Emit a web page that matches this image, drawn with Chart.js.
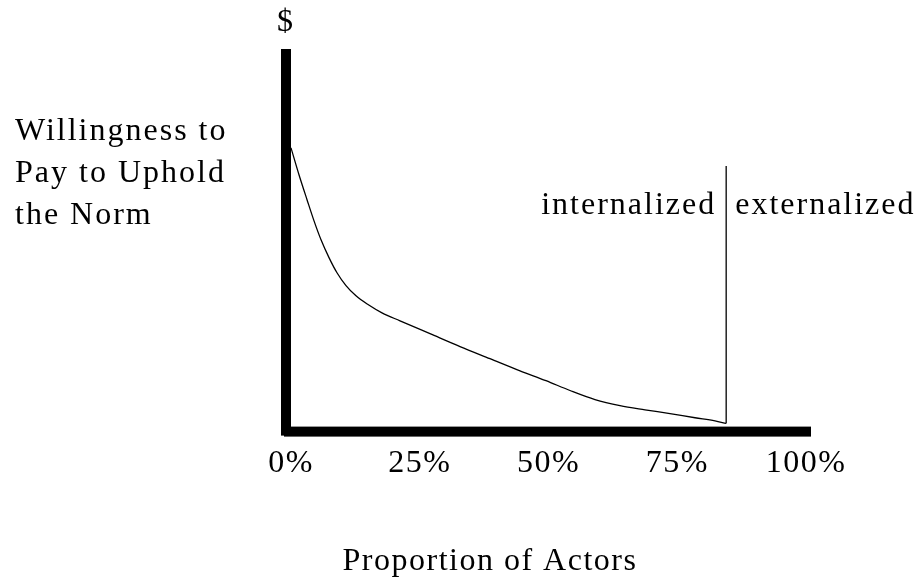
<!DOCTYPE html>
<html>
<head>
<meta charset="utf-8">
<script src="https://cdn.jsdelivr.net/npm/chart.js@4.4.0/dist/chart.umd.min.js"></script>
<style>
  html, body { margin: 0; padding: 0; background: #fff; }
  #wrap { width: 920px; height: 582px; }
</style>
</head>
<body>
<div id="wrap"><canvas id="norm"></canvas></div>
<script>
// values
const tickValues = [0, 25, 50, 75, 100];
const tickLabels = ['0%', '25%', '50%', '75%', '100%'];
const curveX = [0, 1.55, 3.11, 4.47, 5.83, 7.38, 8.93, 10.68, 12.62, 14.95, 17.67, 21.17, 26.99, 32.82, 38.64, 44.47, 49.51, 54.17, 59.03, 63.88, 68.74, 73.59, 78.45, 82.33, 84.47];
const curveY = [73.9, 66.8, 60.2, 54.6, 49.6, 44.9, 40.9, 37.5, 34.8, 32.5, 30.3, 28.2, 24.8, 21.4, 18.2, 15.0, 12.4, 9.8, 7.4, 5.8, 4.7, 3.7, 2.6, 1.8, 1.1];
const dividerX = [84.5, 84.5];
const dividerY = [1.1, 69.1];
const yTitleLines = ['Willingness to', 'Pay to Uphold', 'the Norm'];
const regionLabels = ['internalized', 'externalized'];
const xTitle = 'Proportion of Actors';
const yUnit = '$';

const serif = '"Liberation Serif", "Times New Roman", serif';
Chart.defaults.font.family = serif;
Chart.defaults.color = '#000';

// thick axes and the free text labels
const annotate = {
  id: 'annotate',
  beforeDraw(chart) {
    chart.ctx.letterSpacing = '1.5px';
  },
  beforeDatasetsDraw(chart) {
    const {ctx, chartArea: a} = chart;
    ctx.save();
    ctx.fillStyle = '#000';
    ctx.fillRect(a.left - 10, a.top, 10, a.bottom + 8 - a.top);
    ctx.fillRect(a.left - 7, a.bottom - 1, a.right + 5 - (a.left - 7), 10);
    ctx.restore();
  },
  afterDraw(chart) {
    const {ctx, chartArea: a, scales} = chart;
    ctx.save();
    ctx.fillStyle = '#000';
    ctx.font = '32px ' + serif;
    ctx.textBaseline = 'alphabetic';
    ctx.letterSpacing = '2px';
    ctx.textAlign = 'center';
    ctx.fillText(yUnit, a.left - 5, 31);
    ctx.textAlign = 'left';
    yTitleLines.forEach((t, i) => ctx.fillText(t, 15, 140 + i * 42));
    const dx = scales.x.getPixelForValue(dividerX[0]);
    ctx.textAlign = 'right';
    ctx.fillText(regionLabels[0], dx - 10, 214);
    ctx.textAlign = 'left';
    ctx.fillText(regionLabels[1], dx + 9, 214);
    ctx.restore();
  }
};

new Chart(document.getElementById('norm'), {
  type: 'scatter',
  data: {
    datasets: [
      {
        data: curveX.map((x, i) => ({x, y: curveY[i]})),
        showLine: true,
        borderColor: '#000',
        borderWidth: 1.3,
        pointRadius: 0,
        cubicInterpolationMode: 'monotone'
      },
      {
        data: dividerX.map((x, i) => ({x, y: dividerY[i]})),
        showLine: true,
        borderColor: '#000',
        borderWidth: 1.3,
        pointRadius: 0
      }
    ]
  },
  options: {
    responsive: true,
    maintainAspectRatio: false,
    animation: false,
    devicePixelRatio: 1,
    layout: { padding: { left: 174, right: 114, top: 49, bottom: 0 } },
    plugins: {
      legend: { display: false },
      tooltip: { enabled: false },
      title: {
        display: true,
        position: 'bottom',
        text: xTitle,
        color: '#000',
        font: { size: 32, weight: 'normal', family: serif },
        padding: { top: 43, bottom: 1 }
      }
    },
    scales: {
      x: {
        type: 'linear',
        min: 0,
        max: 100,
        afterBuildTicks: s => { s.ticks = tickValues.map(v => ({value: v})); },
        afterFit: s => { s.height = 72; s.paddingLeft = 0; s.paddingRight = 0; },
        grid: { display: false, drawTicks: false },
        border: { display: false },
        ticks: {
          padding: 17,
          maxRotation: 0,
          autoSkip: false,
          font: { size: 32 },
          callback: (v) => tickLabels[tickValues.indexOf(v)]
        }
      },
      y: {
        min: 0,
        max: 100,
        afterFit: s => { s.width = 117; },
        grid: { display: false, drawTicks: false },
        border: { display: false },
        ticks: { display: false }
      }
    }
  },
  plugins: [annotate]
});
</script>
</body>
</html>
